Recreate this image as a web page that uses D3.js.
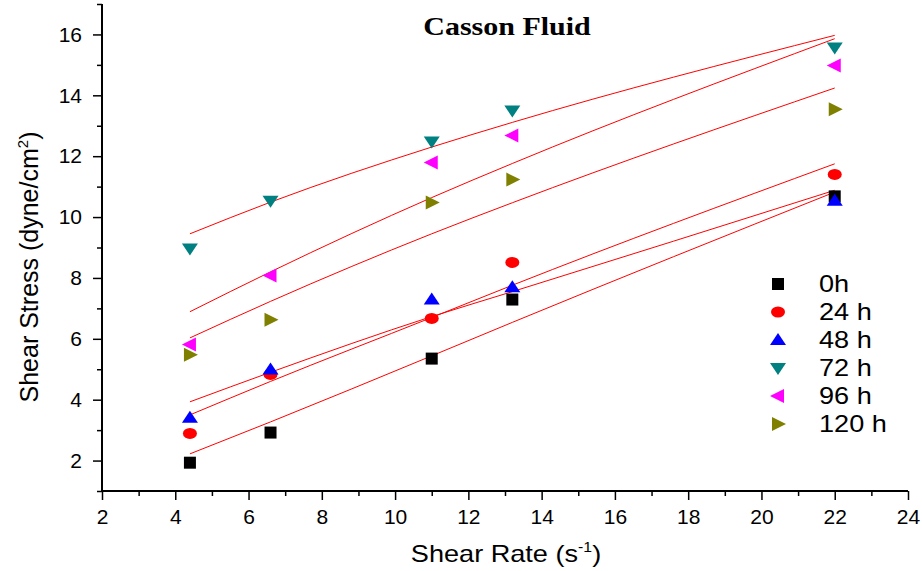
<!DOCTYPE html>
<html>
<head>
<meta charset="utf-8">
<script src="https://cdn.jsdelivr.net/npm/d3@7"></script>
<style>
  body { margin: 0; background: #fff; }
  svg text { font-family: "Liberation Sans", Arial, sans-serif; fill: #000; }
</style>
</head>
<body>
<svg id="chart" width="922" height="571"></svg>
<script>
// Data
const shearRate = [4.4, 6.6, 11, 13.2, 22];
const seriesNames = ["0h", "24 h", "48 h", "72 h", "96 h", "120 h"];
const stress0   = [1.93, 2.92, 5.35, 7.29, 10.68];
const stress24  = [2.89, 4.83, 6.67, 8.51, 11.40];
const stress48  = [3.41, 4.99, 7.29, 7.69, 10.54];
const stress72  = [8.97, 10.54, 12.48, 13.50, 15.57];
const stress96  = [5.81, 8.08, 11.79, 12.68, 14.98];
const stress120 = [5.48, 6.63, 10.48, 11.23, 13.54];
// Casson fit curves, values read at the same shear rates
const fit0   = [2.22, 3.27, 5.44, 6.54, 10.82];
const fit24  = [3.50, 4.60, 6.70, 7.76, 11.75];
const fit48  = [3.93, 4.90, 6.73, 7.55, 10.88];
const fit72  = [9.45, 10.49, 12.30, 13.11, 15.97];
const fit96  = [6.89, 8.20, 10.64, 11.76, 15.86];
const fit120 = [6.03, 7.23, 9.45, 10.47, 14.24];
const xTicks = [2, 4, 6, 8, 10, 12, 14, 16, 18, 20, 22, 24];
const yTicks = [2, 4, 6, 8, 10, 12, 14, 16];

const series = [
  { name: seriesNames[0], y: stress0,   fit: fit0,   color: "#000000", shape: "square" },
  { name: seriesNames[1], y: stress24,  fit: fit24,  color: "#ff0000", shape: "circle" },
  { name: seriesNames[2], y: stress48,  fit: fit48,  color: "#0000ff", shape: "up" },
  { name: seriesNames[3], y: stress72,  fit: fit72,  color: "#008080", shape: "down" },
  { name: seriesNames[4], y: stress96,  fit: fit96,  color: "#ff00ff", shape: "left" },
  { name: seriesNames[5], y: stress120, fit: fit120, color: "#808000", shape: "right" }
];

const svg = d3.select("#chart");
const x = d3.scaleLinear().domain([2, 24]).range([102, 908]);
const y = d3.scaleLinear().domain([1, 17]).range([491, 4]);

// marker shapes
const shapes = {
  square: "M-6,-6H6V6H-6Z",
  circle: "M-7,0A7,5.5 0 1,0 7,0A7,5.5 0 1,0 -7,0Z",
  up:     "M0,-7L8,5H-8Z",
  down:   "M-8,-5H8L0,7Z",
  left:   "M-8,0L6,-7V7Z",
  right:  "M8,0L-6,-7V7Z"
};

// fit lines
const line = d3.line()
  .x((d, i) => x(shearRate[i]))
  .y(d => y(d))
  .curve(d3.curveMonotoneX);

svg.append("g")
  .selectAll("path")
  .data(series)
  .join("path")
    .attr("d", d => line(d.fit))
    .attr("fill", "none")
    .attr("stroke", "#ff0000")
    .attr("stroke-width", 1);

// points
series.forEach(s => {
  svg.append("g")
    .selectAll("path")
    .data(s.y)
    .join("path")
      .attr("transform", (d, i) => `translate(${x(shearRate[i])},${y(d)})`)
      .attr("d", shapes[s.shape])
      .attr("fill", s.color);
});

// axes (minor ticks on odd values, major on even)
const xAxis = svg.append("g").attr("transform", "translate(0,491)");
xAxis.call(d3.axisBottom(x).tickValues(d3.range(3, 24, 2)).tickSize(5).tickFormat(""));
const xMaj = svg.append("g").attr("transform", "translate(0,491)")
  .call(d3.axisBottom(x).tickValues(xTicks).tickSize(9).tickPadding(9));
xMaj.selectAll("text").attr("font-size", 21).style("font-family", "Liberation Sans, Arial, sans-serif");

const yAxis = svg.append("g").attr("transform", "translate(102,0)");
yAxis.call(d3.axisLeft(y).tickValues(d3.range(1, 18, 2)).tickSize(5).tickFormat(""));
const yMaj = svg.append("g").attr("transform", "translate(102,0)")
  .call(d3.axisLeft(y).tickValues(yTicks).tickSize(9).tickPadding(11));
yMaj.selectAll("text").attr("font-size", 21).style("font-family", "Liberation Sans, Arial, sans-serif");

svg.selectAll(".domain").attr("stroke", "#000").attr("stroke-width", 2);
xAxis.select(".domain").attr("d", "M101,0H908");
xMaj.select(".domain").attr("d", "M101,0H908");
yAxis.select(".domain").attr("d", "M0,4V492");
yMaj.select(".domain").attr("d", "M0,4V492");
svg.selectAll(".tick line").attr("stroke", "#000").attr("stroke-width", 1.5);

// title
svg.append("text")
  .attr("transform", "translate(507,35) scale(1.2,1)")
  .attr("text-anchor", "middle")
  .style("font-family", "'Liberation Serif', 'Times New Roman', serif")
  .attr("font-weight", "bold")
  .attr("font-size", 25)
  .text("Casson Fluid");

// axis labels
const xl = svg.append("text")
  .attr("transform", "translate(506,562) scale(1.13,1)")
  .attr("text-anchor", "middle")
  .attr("font-size", 24);
xl.append("tspan").text("Shear Rate (s");
xl.append("tspan").attr("dy", -10).attr("font-size", 14).text("-1");
xl.append("tspan").attr("dy", 10).text(")");

const yl = svg.append("text")
  .attr("transform", "translate(38,267) rotate(-90)")
  .attr("text-anchor", "middle")
  .attr("font-size", 25);
yl.append("tspan").text("Shear Stress (dyne/cm");
yl.append("tspan").attr("dy", -10).attr("font-size", 15).text("2");
yl.append("tspan").attr("dy", 10).text(")");

// legend
const legend = svg.append("g").attr("transform", "translate(778,284)");
const rows = legend.selectAll("g")
  .data(series)
  .join("g")
    .attr("transform", (d, i) => `translate(0,${i * 28})`);
rows.append("path")
  .attr("d", d => shapes[d.shape])
  .attr("fill", d => d.color);
rows.append("text")
  .attr("transform", "translate(41,8) scale(1.13,1)")
  .attr("font-size", 24)
  .text(d => d.name);
</script>
</body>
</html>
